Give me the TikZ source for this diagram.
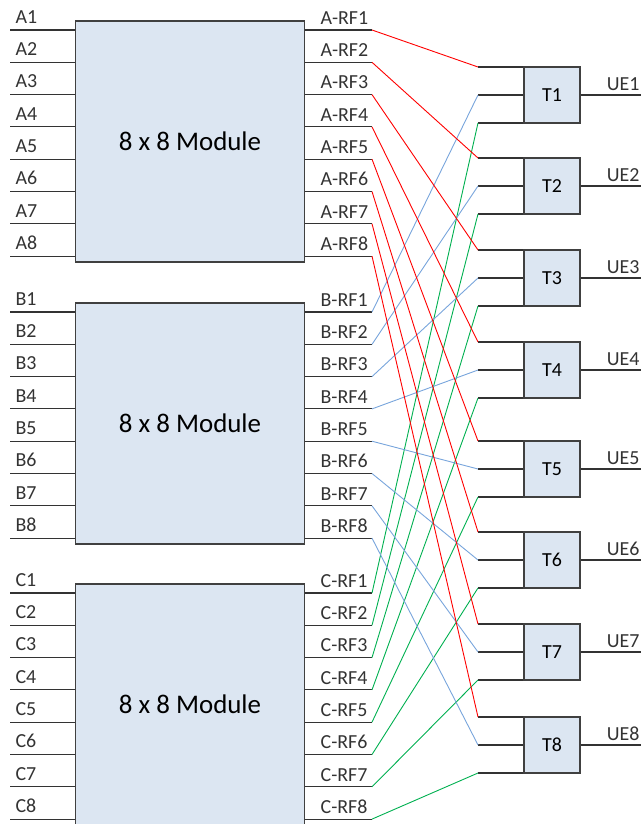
\documentclass[tikz,border=0pt]{standalone}
\usepackage{fontspec}
\setmainfont{Carlito}
\definecolor{modfill}{RGB}{220,230,242}
\definecolor{rfred}{RGB}{255,0,0}
\definecolor{rfblue}{RGB}{120,165,220}
\definecolor{rfgreen}{RGB}{0,176,80}

\begin{document}
\begin{tikzpicture}[x=1bp,y=-1bp,every node/.style={inner sep=2bp},
    module/.style={draw=black!75,fill=modfill,line width=1.2bp,
      minimum width=229bp,minimum height=241bp,font=\fontsize{27}{32}\selectfont},
    tbox/.style={draw=black!75,fill=modfill,line width=1.2bp,
      minimum width=56bp,minimum height=56bp,font=\fontsize{20}{24}\selectfont},
    lbl/.style={font=\fontsize{20}{24}\selectfont,inner sep=0pt},
    wire/.style={black!80,line width=1.1bp},
    rfa/.style={rfred,line width=0.9bp},
    rfb/.style={rfblue,line width=0.9bp},
    rfc/.style={rfgreen,line width=0.9bp}]
  \useasboundingbox (0,0) rectangle (641,824);
  % the three 8x8 modules with their ports
  \foreach \m/\top in {A/21,B/303,C/584}{
    \pgfmathsetmacro\yc{\top+120.5}
    \node[module] (mod\m) at (190,\yc) {8 x 8 Module};
    \foreach \i in {1,...,8}{
      \pgfmathsetmacro\yp{\top+9+(\i-1)*32.3}
      \coordinate (\m-in\i) at (10,\yp);
      \coordinate (\m-rf\i) at (372,\yp);
      \draw[wire](\m-in\i)--(\m-in\i -| mod\m.west)
        node[lbl,pos=0,anchor=south west,xshift=5bp,yshift=6bp]{\m\i};
      \draw[wire](mod\m.east |- \m-rf\i)--(\m-rf\i)
        node[lbl,pos=0,anchor=south west,xshift=15bp,yshift=5bp]{\m-RF\i};
    }
  }
  % combiners T1..T8
  \foreach \i/\ty in {1/67,2/158,3/250,4/342,5/441,6/532,7/624,8/717}{
    \pgfmathsetmacro\ym{\ty+28}
    \node[tbox] (T\i) at (552,\ym) {T\i};
    \coordinate (T\i-a) at (478,\ty);
    \coordinate (T\i-b) at (478,\ym);
    \coordinate (T\i-c) at (478,\ty+56);
    \coordinate (ue\i) at (641,\ym);
    \draw[wire](T\i-a)--(T\i-a -| T\i.west);
    \draw[wire](T\i-b)--(T\i-b -| T\i.west);
    \draw[wire](T\i-c)--(T\i-c -| T\i.west);
    \draw[wire](T\i)--(ue\i)
      node[lbl,pos=1,anchor=south east,xshift=-1bp,yshift=4bp]{UE\i};
  }
  % crossing feeds
  \foreach \i in {1,...,8}{
    \draw[rfa](A-rf\i)--(T\i-a);
    \draw[rfb](B-rf\i)--(T\i-b);
    \draw[rfc](C-rf\i)--(T\i-c);
  }
\end{tikzpicture}
\end{document}
